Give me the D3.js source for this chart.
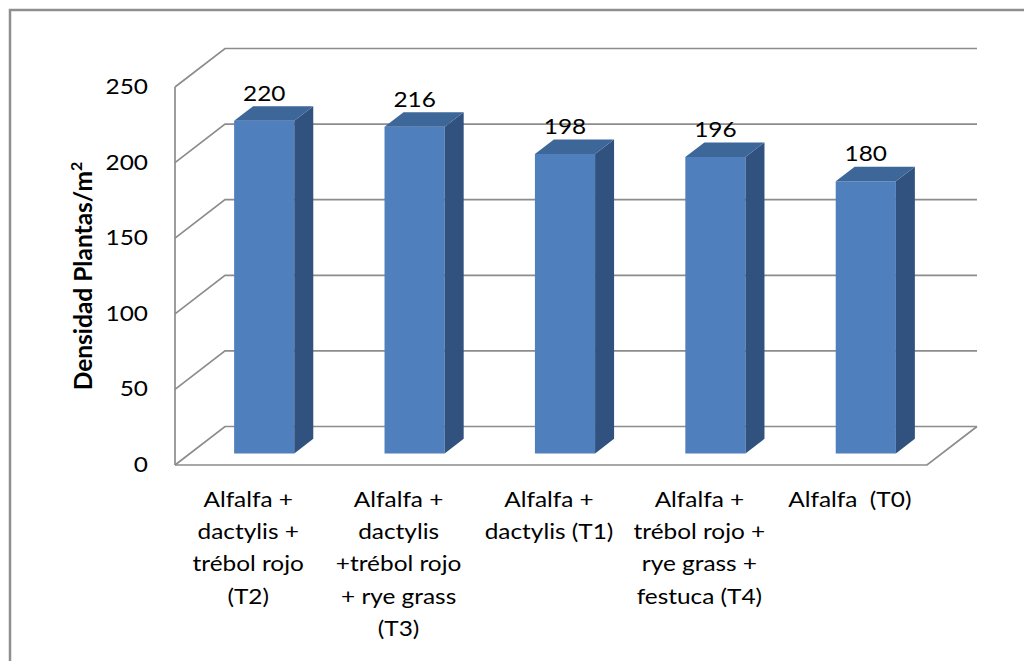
<!DOCTYPE html>
<html>
<head>
<meta charset="utf-8">
<script src="https://cdn.jsdelivr.net/npm/d3@7"></script>
<style>
  body { margin: 0; background: #fff; }
  svg { display: block; }
  text { font-family: Lato, "Open Sans", sans-serif; fill: #000; white-space: pre; }
</style>
</head>
<body>
<svg id="chart" width="1024" height="661"></svg>
<script>
// Plant density per treatment
const categories = ["T2", "T3", "T1", "T4", "T0"];
const categoryLabels = [
  ["Alfalfa +", "dactylis +", "trébol rojo", "(T2)"],
  ["Alfalfa +", "dactylis", "+trébol rojo", "+ rye grass", "(T3)"],
  ["Alfalfa +", "dactylis (T1)"],
  ["Alfalfa +", "trébol rojo +", "rye grass +", "festuca (T4)"],
  ["Alfalfa  (T0)"]
];
const values = [220, 216, 198, 196, 180];
const yTicks = [0, 50, 100, 150, 200, 250];
const yTitle = "Densidad Plantas/m";

const svg = d3.select("#chart");

// Oblique 3D projection: front plane from scales, depth shifts up-right
const x = d3.scaleBand().domain(categories).range([175, 927]);
const y = d3.scaleLinear().domain([0, 250]).range([465, 87]);
const depthX = 50, depthY = -38.5;
const P = (px, v, z) => [px + z * depthX, y(v) + z * depthY];
const pts = arr => arr.map(p => p.join(",")).join(" ");
const stretch = 1.19;
const fontSize = 20.5;
const gridColor = "#8c8c8c";

// Chart area border
svg.append("path")
  .attr("d", "M10,670 L10,10 L1030,10")
  .attr("fill", "none")
  .attr("stroke", "#8f8f8f")
  .attr("stroke-width", 2.5);

// Walls and gridlines
const grid = svg.append("g").attr("fill", "none").attr("stroke", gridColor).attr("stroke-width", 1.7);
const [xL, xR] = x.range();
yTicks.forEach(v => {
  const a = P(xL, v, 0), b = P(xL, v, 1), c = P(xR, v, 1);
  grid.append("path").attr("d", `M${a}L${b}L${c}`);
});
grid.append("path").attr("d", `M${P(xL, 0, 0)}L${P(xR, 0, 0)}L${P(xR, 0, 1)}`);
grid.append("path").attr("d", `M${P(xL, 0, 0)}L${P(xL, 250, 0)}`);

// Y tick labels
svg.append("g").selectAll("text").data(yTicks).join("text")
  .attr("transform", d => `translate(148,${y(d) + 7}) scale(${stretch},1)`)
  .attr("text-anchor", "end")
  .attr("font-size", fontSize)
  .text(d => d);

// Bars
const bw = x.bandwidth();
const w = bw / 2.5; // gap width 150%
const z0 = 0.3, z1 = 0.68;
const bars = svg.append("g");
values.forEach((v, i) => {
  const x0 = x(categories[i]) + (bw - w) / 2 - 1, x1 = x0 + w;
  const g = bars.append("g");
  g.append("polygon").attr("fill", "#4f80bd")
    .attr("points", pts([P(x0, 0, z0), P(x1, 0, z0), P(x1, v, z0), P(x0, v, z0)]));
  g.append("polygon").attr("fill", "#31527e")
    .attr("points", pts([P(x1, 0, z0), P(x1, 0, z1), P(x1, v, z1), P(x1, v, z0)]));
  g.append("polygon").attr("fill", "#3d6699")
    .attr("points", pts([P(x0, v, z0), P(x1, v, z0), P(x1, v, z1), P(x0, v, z1)]));
  const [lx, ly] = P((x0 + x1) / 2, v, z0);
  svg.append("text")
    .attr("transform", `translate(${lx},${ly - 20}) scale(${stretch},1)`)
    .attr("text-anchor", "middle")
    .attr("font-size", fontSize)
    .text(v);
});

// Category labels
categoryLabels.forEach((lines, i) => {
  const cx = x(categories[i]) + bw / 2 - 2;
  lines.forEach((line, j) => {
    svg.append("text")
      .attr("transform", `translate(${cx},${507 + j * 32.2}) scale(${stretch},1)`)
      .attr("text-anchor", "middle")
      .attr("font-size", fontSize)
      .text(line);
  });
});

// Y axis title
const title = svg.append("text")
  .attr("transform", "translate(92,276) rotate(-90)")
  .attr("text-anchor", "middle")
  .attr("font-size", 24.5)
  .attr("font-weight", "bold");
title.append("tspan").text(yTitle);
title.append("tspan").attr("font-size", 16).attr("dy", -10).text("2");
</script>
</body>
</html>
